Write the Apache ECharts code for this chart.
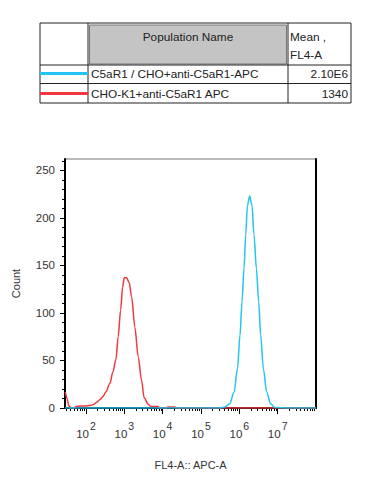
<!DOCTYPE html>
<html>
<head>
<meta charset="utf-8">
<script src="https://cdn.jsdelivr.net/npm/echarts@6/dist/echarts.min.js"></script>
<style>html,body{margin:0;padding:0;background:#fff}#c{width:367px;height:502px}</style>
</head>
<body>
<div id="c"></div>
<script>
// ---- data ----
const tableHeaders = ['Population Name', 'Mean ,', 'FL4-A'];
const populationNames = ['C5aR1 / CHO+anti-C5aR1-APC', 'CHO-K1+anti-C5aR1 APC'];
const populationMeans = ['2.10E6', '1340'];

// CHO-K1+anti-C5aR1 APC histogram (FL4-A value, count)
const redX = [29, 32, 36, 41, 49, 55, 70, 94, 127, 152, 193, 232, 277, 332, 422, 505, 604, 693, 802, 904, 993, 1148, 1343, 1549, 1888, 2301, 2825, 3281, 4188, 4932, 6266, 7499, 8453, 12106, 13646, 20797, 23442, 100000, 1000000, 10000000, 100000000];
const redY = [17, 10, 2, 0, 0, 1.5, 2, 2, 2.5, 3.5, 6, 9, 12, 17, 26, 38, 51, 75, 103, 127, 137, 137, 132, 117, 85, 54, 29, 11, 4, 1.5, 1.5, 1.5, 0, 0, 1, 1, 0, 0, 0, 0, 0];

// C5aR1 / CHO+anti-C5aR1-APC histogram (FL4-A value, count)
const blueX = [28.4, 1000, 100000, 309000, 417000, 562000, 728000, 893000, 1042000, 1175000, 1325000, 1468000, 1626000, 1866000, 2143000, 2415000, 2788000, 3199000, 3606000, 4246000, 5176000, 6577000, 8356000, 20000000, 100000000];
const blueY = [0, 0, 0, 0, 1, 4.4, 16.7, 41, 76.5, 111.6, 147, 182, 213, 223, 213, 182, 147, 111.6, 76.5, 41, 16.7, 4.4, 0.5, 0, 0];

const xTickExponents = [2, 3, 4, 5, 6, 7];
const yTicks = [0, 50, 100, 150, 200, 250];
const yMinorTicks = [10, 20, 30, 40, 60, 70, 80, 90, 110, 120, 130, 140, 160, 170, 180, 190, 210, 220, 230, 240, 260];

// ---- styles ----
const BLUE = '#22c4f2';
const RED = '#f2383e';
const FONT = '"Liberation Sans", Arial, Helvetica, sans-serif';

const xMajor = xTickExponents.map(e => Math.pow(10, e));
const xMinor = [];
for (let e = 1; e <= 7; e++) for (let m = 2; m <= 9; m++) xMinor.push(m * Math.pow(10, e));

const chart = echarts.init(document.getElementById('c'), null, {renderer: 'svg'});

function tableGraphics() {
  const g = [];
  const L = 40, T = 23, R = 351, B = 103, C1 = 88, C2 = 288, H1 = 65, H2 = 83.5;
  const F = '11.8px ' + FONT;
  g.push({type: 'rect', shape: {x: L, y: T, width: R - L, height: B - T}, style: {fill: '#fff', stroke: '#222', lineWidth: 1}});
  g.push({type: 'rect', shape: {x: C1 + 1.5, y: T + 2, width: C2 - C1 - 3, height: H1 - T - 3}, style: {fill: '#c4c4c4', stroke: '#777', lineWidth: 1}});
  g.push({type: 'line', shape: {x1: C1, y1: T, x2: C1, y2: B}, style: {stroke: '#222', lineWidth: 1}});
  g.push({type: 'line', shape: {x1: C2, y1: T, x2: C2, y2: B}, style: {stroke: '#222', lineWidth: 1}});
  g.push({type: 'line', shape: {x1: L, y1: H1, x2: R, y2: H1}, style: {stroke: '#222', lineWidth: 1}});
  g.push({type: 'line', shape: {x1: L, y1: H2, x2: R, y2: H2}, style: {stroke: '#222', lineWidth: 1}});
  g.push({type: 'text', x: (C1 + C2) / 2, y: 37, style: {text: tableHeaders[0], font: F, fill: '#222', align: 'center', verticalAlign: 'middle'}});
  g.push({type: 'text', x: C2 + 2, y: 37, style: {text: tableHeaders[1], font: F, fill: '#222', align: 'left', verticalAlign: 'middle'}});
  g.push({type: 'text', x: C2 + 2, y: 55, style: {text: tableHeaders[2], font: F, fill: '#222', align: 'left', verticalAlign: 'middle'}});
  const rowY = [73.5, 93.5];
  const cols = [BLUE, RED];
  for (let i = 0; i < populationNames.length; i++) {
    g.push({type: 'line', shape: {x1: L, y1: rowY[i], x2: C1, y2: rowY[i]}, style: {stroke: cols[i], lineWidth: 3}});
    g.push({type: 'text', x: C1 + 3, y: rowY[i], style: {text: populationNames[i], font: F, fill: '#222', align: 'left', verticalAlign: 'middle'}});
    g.push({type: 'text', x: R - 3, y: rowY[i], style: {text: populationMeans[i], font: F, fill: '#222', align: 'right', verticalAlign: 'middle'}});
  }
  return g;
}

const option = {
  animation: false,
  textStyle: {fontFamily: FONT},
  graphic: tableGraphics(),
  grid: {left: 65, top: 159, right: 51, bottom: 94, show: true, borderColor: '#777', borderWidth: 1, containLabel: false},
  xAxis: [
    {
      type: 'log', logBase: 10, min: 28.4, max: 1e8, position: 'bottom',
      axisLine: {lineStyle: {color: '#000', width: 2}},
      axisTick: {show: true, customValues: xMajor, length: 6, lineStyle: {color: '#000', width: 1}},
      axisLabel: {
        customValues: xMajor, margin: 12,
        formatter: v => '{b|10}{e|' + Math.round(Math.log10(v)) + '}',
        rich: {
          b: {fontSize: 11.5, color: '#333', fontFamily: FONT, verticalAlign: 'bottom'},
          e: {fontSize: 10.5, color: '#333', fontFamily: FONT, verticalAlign: 'bottom', padding: [0, 0, 9, 1]}
        }
      },
      splitLine: {show: false},
      name: 'FL4-A:: APC-A', nameLocation: 'middle', nameGap: 51,
      nameTextStyle: {fontSize: 11, color: '#333', fontFamily: FONT}
    },
    {
      type: 'log', logBase: 10, min: 28.4, max: 1e8, position: 'bottom',
      axisLine: {show: false},
      axisTick: {show: true, customValues: xMinor, length: 3, lineStyle: {color: '#000', width: 1}},
      axisLabel: {show: false},
      splitLine: {show: false}
    }
  ],
  yAxis: [
    {
      type: 'value', min: 0, max: 262, position: 'left',
      axisLine: {show: true, lineStyle: {color: '#000', width: 2}},
      axisTick: {show: true, customValues: yTicks, length: 5, lineStyle: {color: '#000', width: 1}},
      axisLabel: {customValues: yTicks, fontSize: 11.5, color: '#333', margin: 10},
      splitLine: {show: false},
      name: 'Count', nameLocation: 'middle', nameGap: 44,
      nameTextStyle: {fontSize: 11, color: '#333', fontFamily: FONT}
    },
    {
      type: 'value', min: 0, max: 262, position: 'left',
      axisLine: {show: false},
      axisTick: {show: true, customValues: yMinorTicks, length: 3, lineStyle: {color: '#000', width: 1}},
      axisLabel: {show: false},
      splitLine: {show: false}
    },
    {
      type: 'value', min: 0, max: 262, position: 'right',
      axisLine: {show: true, lineStyle: {color: '#000', width: 2}},
      axisTick: {show: false}, axisLabel: {show: false}, splitLine: {show: false}
    }
  ],
  series: [
    {
      name: populationNames[1], type: 'line', xAxisIndex: 0, yAxisIndex: 0,
      data: redX.map((x, i) => [x, redY[i]]),
      showSymbol: false, smooth: 0.3, smoothMonotone: 'x',
      lineStyle: {color: RED, width: 1.5}, itemStyle: {color: RED}
    },
    {
      name: populationNames[0], type: 'line', xAxisIndex: 0, yAxisIndex: 0,
      data: blueX.map((x, i) => [x, blueY[i]]),
      showSymbol: false, smooth: 0.3, smoothMonotone: 'x',
      lineStyle: {color: BLUE, width: 1.5}, itemStyle: {color: BLUE}
    }
  ]
};
chart.setOption(option);
</script>
</body>
</html>
